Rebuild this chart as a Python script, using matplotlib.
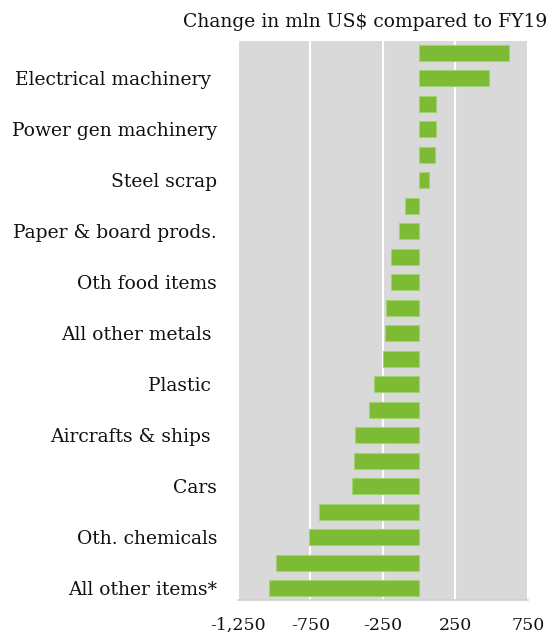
import matplotlib.pyplot as plt

# bar values, top to bottom (mln US$ change vs FY19)
values = [620, 480, 115, 115, 110, 65, -100, -142, -193, -195, -232, -234,
          -251, -315, -345, -443, -450, -464, -692, -759, -986, -1037]
# only every other bar carries a label
labels = ['Electrical machinery ', 'Power gen machinery', 'Steel scrap',
          'Paper & board prods.', 'Oth food items', 'All other metals ',
          'Plastic ', 'Aircrafts & ships ', 'Cars', 'Oth. chemicals',
          'All other items*']
xticks = [-1250, -750, -250, 250, 750]
xticklabels = ['-1,250', '-750', '-250', '250', '750']

plt.rcParams['font.family'] = ['DejaVu Serif']

fig = plt.figure(figsize=(5.49, 6.37), dpi=100)
ax = fig.add_axes([0.4335, 0.0581, 0.5282, 0.8775])

ypos = list(range(len(values)))
ax.barh(ypos, values, height=0.63, color='#7cbb33', edgecolor='#a3d273',
        linewidth=0.8, zorder=3)

ax.set_facecolor('#d9d9d9')
ax.set_xlim(-1250, 750)
ax.set_ylim(len(values) - 0.53, -0.47)

ax.set_xticks(xticks)
ax.set_xticklabels(xticklabels, fontsize=12.5, color='#111111')
ax.set_yticks(ypos[1::2])
ax.set_yticklabels(labels, fontsize=13.5, color='#111111')
ax.tick_params(axis='both', length=0)
ax.tick_params(axis='y', pad=15)
ax.tick_params(axis='x', pad=12)

ax.grid(axis='x', color='white', linewidth=1.5, zorder=1)
for s in ['top', 'right', 'left']:
    ax.spines[s].set_visible(False)
ax.spines['bottom'].set_color('#d0d0d0')
ax.spines['bottom'].set_linewidth(1.2)

fig.text(183 / 549, 1 - 22 / 637, 'Change in mln US$ compared to FY19',
         fontsize=13.5, color='#111111', va='center', ha='left')

fig.savefig('out.png', dpi=100)
